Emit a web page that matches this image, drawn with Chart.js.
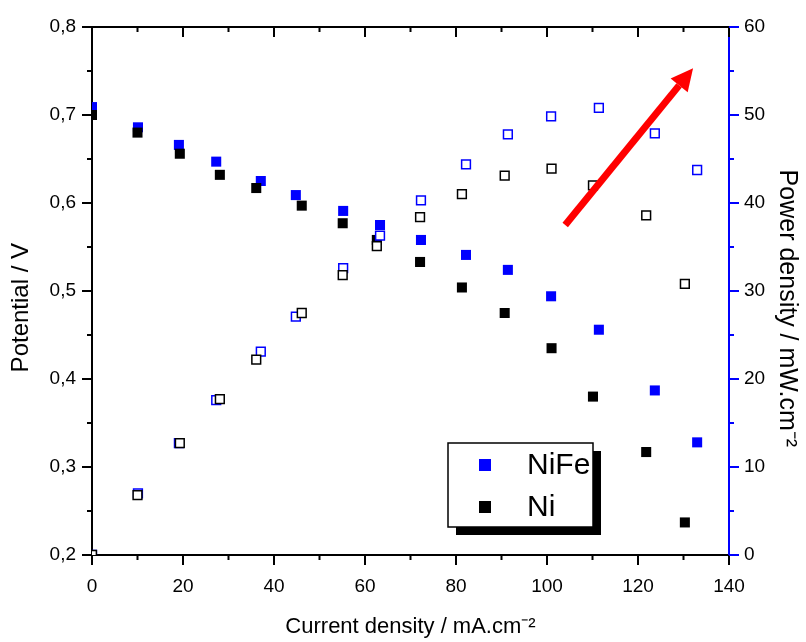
<!DOCTYPE html>
<html>
<head>
<meta charset="utf-8">
<script src="https://cdn.jsdelivr.net/npm/chart.js@4.4.1/dist/chart.umd.min.js"></script>
<style>
  html, body { margin: 0; padding: 0; background: #fff; }
  #wrap { width: 806px; height: 642px; }
</style>
</head>
<body>
<div id="wrap"><canvas id="polarization" width="806" height="642"></canvas></div>
<script>
// values
const currentNiFe = [0, 10.1, 19.1, 27.3, 37.1, 44.8, 55.2, 63.3, 72.3, 82.2, 91.4, 100.9, 111.4, 123.7, 133.0];
const potentialNiFe = [0.709, 0.686, 0.666, 0.647, 0.625, 0.609, 0.591, 0.575, 0.558, 0.541, 0.524, 0.494, 0.456, 0.387, 0.328];
const powerNiFe = [0, 7.0, 12.7, 17.6, 23.1, 27.1, 32.6, 36.3, 40.3, 44.4, 47.8, 49.85, 50.8, 47.9, 43.75];

const currentNi = [0, 10.0, 19.3, 28.1, 36.1, 46.1, 55.1, 62.6, 72.1, 81.3, 90.7, 101.0, 110.1, 121.8, 130.3];
const potentialNi = [0.700, 0.680, 0.656, 0.632, 0.617, 0.597, 0.577, 0.558, 0.533, 0.504, 0.475, 0.435, 0.380, 0.317, 0.237];
const powerNi = [0, 6.8, 12.7, 17.7, 22.2, 27.5, 31.8, 35.1, 38.4, 41.0, 43.1, 43.9, 42.0, 38.6, 30.8];

const currentTicks = [0, 20, 40, 60, 80, 100, 120, 140];
const potentialTicks = [0.2, 0.3, 0.4, 0.5, 0.6, 0.7, 0.8];
const powerTicks = [0, 10, 20, 30, 40, 50, 60];

// red arrow, in (current, power) units
const arrowStart = [104, 37.5];
const arrowEnd = [132.1, 55.3];

const FONT = '"Liberation Sans", Arial, sans-serif';
Chart.defaults.font.family = FONT;
Chart.defaults.color = '#000';

const pairs = (xs, ys) => xs.map((x, i) => ({ x: x, y: ys[i] }));

// draws the minor/major tick marks, the top frame line, the boxed legend and the arrow
const decorations = {
    id: 'decorations',
    afterDraw(chart) {
        const { ctx, chartArea: a, scales } = chart;
        ctx.save();
        ctx.lineCap = 'butt';

        ctx.strokeStyle = '#000';
        ctx.lineWidth = 2;
        ctx.beginPath();
        ctx.moveTo(a.left - 1, a.top);
        ctx.lineTo(a.right, a.top);
        ctx.stroke();

        function marks(scale, majors, draw) {
            majors.forEach((v, i) => {
                draw(scale.getPixelForValue(v), 10);
                if (i < majors.length - 1) {
                    draw(scale.getPixelForValue((v + majors[i + 1]) / 2), 5);
                }
            });
        }
        ctx.lineWidth = 2;
        ctx.beginPath();
        marks(scales.x, currentTicks, (p, len) => {
            ctx.moveTo(p, a.bottom); ctx.lineTo(p, a.bottom + len);
            ctx.moveTo(p, a.top); ctx.lineTo(p, a.top + len);
        });
        marks(scales.y, potentialTicks, (p, len) => {
            ctx.moveTo(a.left, p); ctx.lineTo(a.left - len, p);
        });
        ctx.stroke();

        ctx.strokeStyle = '#0000ff';
        ctx.beginPath();
        marks(scales.y2, powerTicks, (p, len) => {
            ctx.moveTo(a.right, p); ctx.lineTo(a.right + len, p);
        });
        ctx.stroke();

        // legend box with drop shadow
        const bx = a.left + 356, by = a.top + 416, bw = 145, bh = 84;
        ctx.fillStyle = '#000';
        ctx.fillRect(bx + 8, by + 8, bw, bh);
        ctx.fillStyle = '#fff';
        ctx.fillRect(bx, by, bw, bh);
        ctx.strokeStyle = '#000';
        ctx.lineWidth = 1.5;
        ctx.strokeRect(bx, by, bw, bh);
        const entries = chart.data.datasets.filter(d => d.yAxisID === 'y');
        ctx.font = '30px ' + FONT;
        ctx.textBaseline = 'middle';
        entries.forEach((d, i) => {
            const cy = by + 22 + i * 42;
            ctx.fillStyle = d.backgroundColor;
            ctx.fillRect(bx + 31, cy - 6, 12, 12);
            ctx.fillStyle = '#000';
            ctx.fillText(d.label, bx + 79, cy + 1);
        });

        // arrow
        const x0 = scales.x.getPixelForValue(arrowStart[0]);
        const y0 = scales.y2.getPixelForValue(arrowStart[1]);
        const x1 = scales.x.getPixelForValue(arrowEnd[0]);
        const y1 = scales.y2.getPixelForValue(arrowEnd[1]);
        const ang = Math.atan2(y1 - y0, x1 - x0);
        const head = 22, half = 11;
        const bxh = x1 - head * Math.cos(ang), byh = y1 - head * Math.sin(ang);
        ctx.strokeStyle = '#ff0000';
        ctx.lineWidth = 7;
        ctx.beginPath();
        ctx.moveTo(x0, y0);
        ctx.lineTo(bxh, byh);
        ctx.stroke();
        ctx.fillStyle = '#ff0000';
        ctx.beginPath();
        ctx.moveTo(x1, y1);
        ctx.lineTo(bxh + half * Math.sin(ang), byh - half * Math.cos(ang));
        ctx.lineTo(bxh - half * Math.sin(ang), byh + half * Math.cos(ang));
        ctx.closePath();
        ctx.fill();

        ctx.restore();
    }
};

new Chart(document.getElementById('polarization'), {
    type: 'scatter',
    data: {
        datasets: [
            {
                label: 'NiFe',
                data: pairs(currentNiFe, potentialNiFe),
                yAxisID: 'y',
                pointStyle: 'rect',
                pointRadius: 7.1,
                borderWidth: 0,
                backgroundColor: '#0000ff',
                borderColor: '#0000ff',
                order: 3,
                clip: 0
            },
            {
                label: 'Ni',
                data: pairs(currentNi, potentialNi),
                yAxisID: 'y',
                pointStyle: 'rect',
                pointRadius: 7.1,
                borderWidth: 0,
                backgroundColor: '#000000',
                borderColor: '#000000',
                order: 2,
                clip: 0
            },
            {
                label: 'NiFe power',
                data: pairs(currentNiFe, powerNiFe),
                yAxisID: 'y2',
                pointStyle: 'rect',
                pointRadius: 6.2,
                borderWidth: 1.5,
                backgroundColor: '#ffffff',
                borderColor: '#0000ff',
                order: 1,
                clip: 0
            },
            {
                label: 'Ni power',
                data: pairs(currentNi, powerNi),
                yAxisID: 'y2',
                pointStyle: 'rect',
                pointRadius: 6.2,
                borderWidth: 1.5,
                backgroundColor: '#ffffff',
                borderColor: '#000000',
                order: 0,
                clip: 0
            }
        ]
    },
    options: {
        responsive: false,
        animation: false,
        layout: { padding: { top: 27, left: 0, right: 0, bottom: 0 } },
        plugins: {
            legend: { display: false },
            tooltip: { enabled: false }
        },
        scales: {
            x: {
                type: 'linear',
                position: 'bottom',
                min: 0,
                max: 140,
                afterBuildTicks: s => { s.ticks = currentTicks.map(v => ({ value: v })); },
                afterFit: s => { s.height = 87; },
                grid: { display: false },
                border: { display: true, color: '#000', width: 2 },
                ticks: { padding: 12, autoSkip: false, maxRotation: 0, font: { size: 19 }, callback: v => String(v) },
                title: { display: true, text: 'Current density / mA.cm⁻²', font: { size: 22 }, padding: { top: 0, bottom: 2 } }
            },
            y: {
                type: 'linear',
                position: 'left',
                min: 0.2,
                max: 0.8,
                afterBuildTicks: s => { s.ticks = potentialTicks.map(v => ({ value: v })); },
                afterFit: s => { s.width = 92; },
                grid: { display: false },
                border: { display: true, color: '#000', width: 2 },
                ticks: { padding: 8, autoSkip: false, font: { size: 19 }, callback: v => v.toFixed(1).replace('.', ',') },
                title: { display: true, text: 'Potential / V     ', font: { size: 24 }, padding: { top: 7, bottom: 0 } }
            },
            y2: {
                type: 'linear',
                position: 'right',
                min: 0,
                max: 60,
                afterBuildTicks: s => { s.ticks = powerTicks.map(v => ({ value: v })); },
                afterFit: s => { s.width = 77; },
                grid: { display: false },
                border: { display: true, color: '#0000ff', width: 2 },
                ticks: { padding: 7, autoSkip: false, font: { size: 19 }, callback: v => String(v) },
                title: { display: true, text: '     Power density / mW.cm⁻²', font: { size: 25 }, padding: { top: 4, bottom: 0 } }
            }
        }
    },
    plugins: [decorations]
});
</script>
</body>
</html>
